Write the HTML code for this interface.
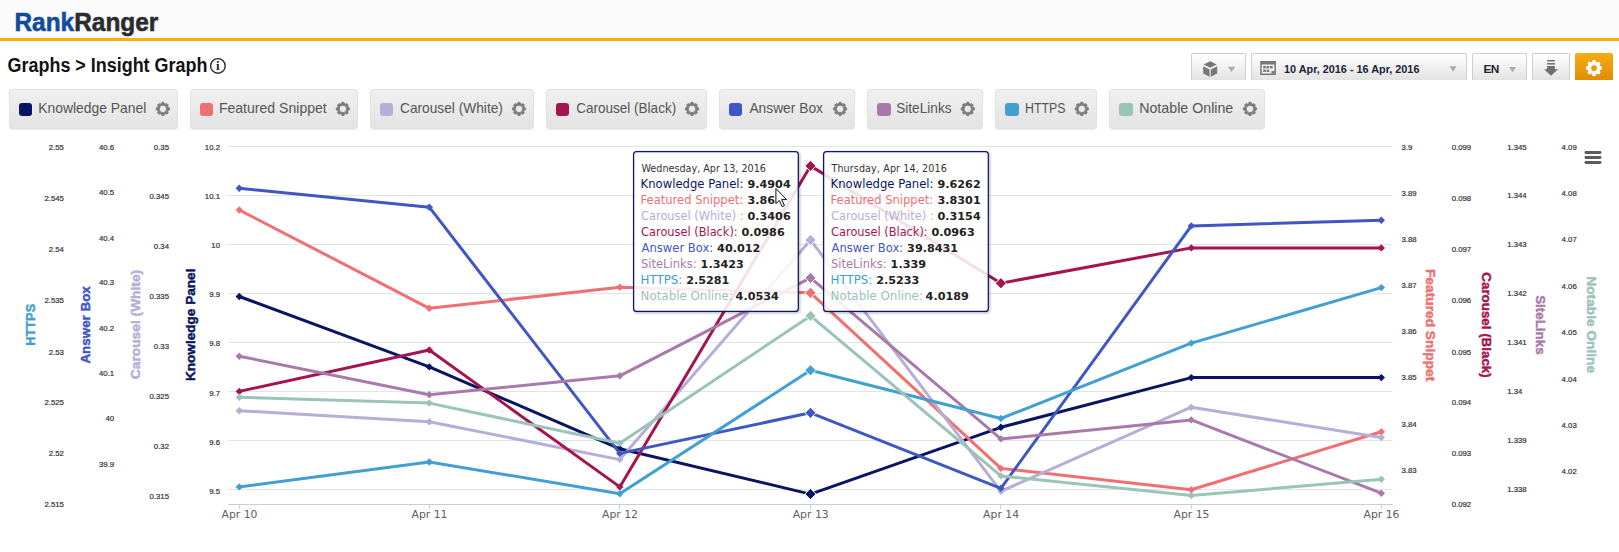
<!DOCTYPE html>
<html lang="en"><head><meta charset="utf-8"><title>Rank Ranger - Insight Graph</title>
<style>
html,body{margin:0;padding:0;background:#fff;}
body{width:1619px;height:552px;position:relative;overflow:hidden;font-family:"Liberation Sans",sans-serif;}
.abs{position:absolute;}
#hdr{left:0;top:0;width:1619px;height:38px;background:#fbfbfb;}
#hline{left:0;top:38px;width:1619px;height:3px;background:#fbae0d;}
.lg{top:89px;height:39.5px;border:1px solid #e2e2e2;border-radius:3px;background:linear-gradient(#f0f0f0,#e3e3e3);box-sizing:border-box;box-shadow:0 1px 1px rgba(0,0,0,.08);}
.lg .sw{position:absolute;left:8.8px;top:12.9px;width:13.6px;height:13px;border-radius:3px;}
.tb{top:53px;height:27px;border:1px solid #cfcfcf;border-bottom:none;border-radius:2px 2px 0 0;background:linear-gradient(#ffffff,#e3e3e3);box-sizing:border-box;}
.tbt{font-weight:700;color:#20223a;white-space:nowrap;}
svg text{font-family:"Liberation Sans",sans-serif;}
.tt text{font-family:"DejaVu Sans","Liberation Sans",sans-serif;}
</style></head><body>
<div id="hdr" class="abs"></div><div id="hline" class="abs"></div>
<div class="abs lg" style="left:9.0px;width:168.7px"><span class="sw" style="background:#091463"></span></div>
<div class="abs lg" style="left:190.1px;width:167.6px"><span class="sw" style="background:#f07072"></span></div>
<div class="abs lg" style="left:370.1px;width:163.7px"><span class="sw" style="background:#b6aed6"></span></div>
<div class="abs lg" style="left:546.0px;width:160.8px"><span class="sw" style="background:#a5144f"></span></div>
<div class="abs lg" style="left:719.1px;width:135.8px"><span class="sw" style="background:#4057c3"></span></div>
<div class="abs lg" style="left:867.2px;width:115.4px"><span class="sw" style="background:#a97aa9"></span></div>
<div class="abs lg" style="left:995.3px;width:101.3px"><span class="sw" style="background:#41a0d1"></span></div>
<div class="abs lg" style="left:1109.3px;width:155.5px"><span class="sw" style="background:#9ac3b9"></span></div>
<div class="abs tb" style="left:1191px;width:55px"></div>
<div class="abs tb" style="left:1251px;width:216px"><span class="abs tbt" style="left:32px;top:1px;line-height:28px;font-size:10.85px">10 Apr, 2016 - 16 Apr, 2016</span></div>
<div class="abs tb" style="left:1472px;width:55px"><span class="abs tbt" style="left:10.5px;top:1px;line-height:28px;font-size:11.8px;letter-spacing:-0.5px">EN</span></div>
<div class="abs tb" style="left:1532px;width:38px"></div>
<div class="abs" style="left:1575px;top:53px;width:38px;height:27px;border-radius:2px 2px 0 0;background:linear-gradient(#f5ad13,#df8c07)"></div>
<svg class="abs" style="left:0;top:0" width="1619" height="552" viewBox="0 0 1619 552">
<text transform="translate(14.4 30.8) scale(1 1.16)" font-size="22.6" font-weight="700" textLength="144" lengthAdjust="spacingAndGlyphs" stroke-width="0.5" stroke-linejoin="round"><tspan fill="#0f4c9c" stroke="#0f4c9c">Rank</tspan><tspan fill="#2c2c2e" stroke="#2c2c2e">Ranger</tspan></text>
<text transform="translate(7.6 72) scale(1 1.075)" font-size="19.1" font-weight="700" textLength="199.8" lengthAdjust="spacingAndGlyphs" fill="#121212">Graphs &gt; Insight Graph</text>
<circle cx="217.9" cy="65.95" r="7.3" fill="none" stroke="#2a2a2a" stroke-width="1.4"/><text x="217.9" y="69.9" font-size="13" font-weight="700" text-anchor="middle" fill="#222" style="font-family:'Liberation Serif',serif">i</text>
<text x="38.3" y="113" font-size="13.75" fill="#555" textLength="108.0" lengthAdjust="spacingAndGlyphs">Knowledge Panel</text>
<text x="218.9" y="113" font-size="13.75" fill="#555" textLength="107.9" lengthAdjust="spacingAndGlyphs">Featured Snippet</text>
<text x="400.0" y="113" font-size="13.75" fill="#555" textLength="102.9" lengthAdjust="spacingAndGlyphs">Carousel (White)</text>
<text x="576.2" y="113" font-size="13.75" fill="#555" textLength="100.0" lengthAdjust="spacingAndGlyphs">Carousel (Black)</text>
<text x="749.4" y="113" font-size="13.75" fill="#555" textLength="73.6" lengthAdjust="spacingAndGlyphs">Answer Box</text>
<text x="896.2" y="113" font-size="13.75" fill="#555" textLength="55.4" lengthAdjust="spacingAndGlyphs">SiteLinks</text>
<text x="1025.0" y="113" font-size="13.75" fill="#555" textLength="40.5" lengthAdjust="spacingAndGlyphs">HTTPS</text>
<text x="1139.2" y="113" font-size="13.75" fill="#555" textLength="94.1" lengthAdjust="spacingAndGlyphs">Notable Online</text>
<path d="M161.61 103.54 L161.86 102.33 L163.94 102.33 L164.19 103.54 L165.78 104.20 L166.81 103.52 L168.28 104.99 L167.60 106.02 L168.26 107.61 L169.47 107.86 L169.47 109.94 L168.26 110.19 L167.60 111.78 L168.28 112.81 L166.81 114.28 L165.78 113.60 L164.19 114.26 L163.94 115.47 L161.86 115.47 L161.61 114.26 L160.02 113.60 L158.99 114.28 L157.52 112.81 L158.20 111.78 L157.54 110.19 L156.33 109.94 L156.33 107.86 L157.54 107.61 L158.20 106.02 L157.52 104.99 L158.99 103.52 L160.02 104.20Z M159.15 108.90 a3.75 3.75 0 1 0 7.50 0 a3.75 3.75 0 1 0 -7.50 0Z" fill="#7b7b7b" fill-rule="evenodd" stroke="#7b7b7b" stroke-width="0.9" stroke-linejoin="round"/>
<path d="M341.61 103.54 L341.86 102.33 L343.94 102.33 L344.19 103.54 L345.78 104.20 L346.81 103.52 L348.28 104.99 L347.60 106.02 L348.26 107.61 L349.47 107.86 L349.47 109.94 L348.26 110.19 L347.60 111.78 L348.28 112.81 L346.81 114.28 L345.78 113.60 L344.19 114.26 L343.94 115.47 L341.86 115.47 L341.61 114.26 L340.02 113.60 L338.99 114.28 L337.52 112.81 L338.20 111.78 L337.54 110.19 L336.33 109.94 L336.33 107.86 L337.54 107.61 L338.20 106.02 L337.52 104.99 L338.99 103.52 L340.02 104.20Z M339.15 108.90 a3.75 3.75 0 1 0 7.50 0 a3.75 3.75 0 1 0 -7.50 0Z" fill="#7b7b7b" fill-rule="evenodd" stroke="#7b7b7b" stroke-width="0.9" stroke-linejoin="round"/>
<path d="M517.71 103.54 L517.96 102.33 L520.04 102.33 L520.29 103.54 L521.88 104.20 L522.91 103.52 L524.38 104.99 L523.70 106.02 L524.36 107.61 L525.57 107.86 L525.57 109.94 L524.36 110.19 L523.70 111.78 L524.38 112.81 L522.91 114.28 L521.88 113.60 L520.29 114.26 L520.04 115.47 L517.96 115.47 L517.71 114.26 L516.12 113.60 L515.09 114.28 L513.62 112.81 L514.30 111.78 L513.64 110.19 L512.43 109.94 L512.43 107.86 L513.64 107.61 L514.30 106.02 L513.62 104.99 L515.09 103.52 L516.12 104.20Z M515.25 108.90 a3.75 3.75 0 1 0 7.50 0 a3.75 3.75 0 1 0 -7.50 0Z" fill="#7b7b7b" fill-rule="evenodd" stroke="#7b7b7b" stroke-width="0.9" stroke-linejoin="round"/>
<path d="M690.71 103.54 L690.96 102.33 L693.04 102.33 L693.29 103.54 L694.88 104.20 L695.91 103.52 L697.38 104.99 L696.70 106.02 L697.36 107.61 L698.57 107.86 L698.57 109.94 L697.36 110.19 L696.70 111.78 L697.38 112.81 L695.91 114.28 L694.88 113.60 L693.29 114.26 L693.04 115.47 L690.96 115.47 L690.71 114.26 L689.12 113.60 L688.09 114.28 L686.62 112.81 L687.30 111.78 L686.64 110.19 L685.43 109.94 L685.43 107.86 L686.64 107.61 L687.30 106.02 L686.62 104.99 L688.09 103.52 L689.12 104.20Z M688.25 108.90 a3.75 3.75 0 1 0 7.50 0 a3.75 3.75 0 1 0 -7.50 0Z" fill="#7b7b7b" fill-rule="evenodd" stroke="#7b7b7b" stroke-width="0.9" stroke-linejoin="round"/>
<path d="M838.81 103.54 L839.06 102.33 L841.14 102.33 L841.39 103.54 L842.98 104.20 L844.01 103.52 L845.48 104.99 L844.80 106.02 L845.46 107.61 L846.67 107.86 L846.67 109.94 L845.46 110.19 L844.80 111.78 L845.48 112.81 L844.01 114.28 L842.98 113.60 L841.39 114.26 L841.14 115.47 L839.06 115.47 L838.81 114.26 L837.22 113.60 L836.19 114.28 L834.72 112.81 L835.40 111.78 L834.74 110.19 L833.53 109.94 L833.53 107.86 L834.74 107.61 L835.40 106.02 L834.72 104.99 L836.19 103.52 L837.22 104.20Z M836.35 108.90 a3.75 3.75 0 1 0 7.50 0 a3.75 3.75 0 1 0 -7.50 0Z" fill="#7b7b7b" fill-rule="evenodd" stroke="#7b7b7b" stroke-width="0.9" stroke-linejoin="round"/>
<path d="M966.51 103.54 L966.76 102.33 L968.84 102.33 L969.09 103.54 L970.68 104.20 L971.71 103.52 L973.18 104.99 L972.50 106.02 L973.16 107.61 L974.37 107.86 L974.37 109.94 L973.16 110.19 L972.50 111.78 L973.18 112.81 L971.71 114.28 L970.68 113.60 L969.09 114.26 L968.84 115.47 L966.76 115.47 L966.51 114.26 L964.92 113.60 L963.89 114.28 L962.42 112.81 L963.10 111.78 L962.44 110.19 L961.23 109.94 L961.23 107.86 L962.44 107.61 L963.10 106.02 L962.42 104.99 L963.89 103.52 L964.92 104.20Z M964.05 108.90 a3.75 3.75 0 1 0 7.50 0 a3.75 3.75 0 1 0 -7.50 0Z" fill="#7b7b7b" fill-rule="evenodd" stroke="#7b7b7b" stroke-width="0.9" stroke-linejoin="round"/>
<path d="M1080.51 103.54 L1080.76 102.33 L1082.84 102.33 L1083.09 103.54 L1084.68 104.20 L1085.71 103.52 L1087.18 104.99 L1086.50 106.02 L1087.16 107.61 L1088.37 107.86 L1088.37 109.94 L1087.16 110.19 L1086.50 111.78 L1087.18 112.81 L1085.71 114.28 L1084.68 113.60 L1083.09 114.26 L1082.84 115.47 L1080.76 115.47 L1080.51 114.26 L1078.92 113.60 L1077.89 114.28 L1076.42 112.81 L1077.10 111.78 L1076.44 110.19 L1075.23 109.94 L1075.23 107.86 L1076.44 107.61 L1077.10 106.02 L1076.42 104.99 L1077.89 103.52 L1078.92 104.20Z M1078.05 108.90 a3.75 3.75 0 1 0 7.50 0 a3.75 3.75 0 1 0 -7.50 0Z" fill="#7b7b7b" fill-rule="evenodd" stroke="#7b7b7b" stroke-width="0.9" stroke-linejoin="round"/>
<path d="M1248.71 103.54 L1248.96 102.33 L1251.04 102.33 L1251.29 103.54 L1252.88 104.20 L1253.91 103.52 L1255.38 104.99 L1254.70 106.02 L1255.36 107.61 L1256.57 107.86 L1256.57 109.94 L1255.36 110.19 L1254.70 111.78 L1255.38 112.81 L1253.91 114.28 L1252.88 113.60 L1251.29 114.26 L1251.04 115.47 L1248.96 115.47 L1248.71 114.26 L1247.12 113.60 L1246.09 114.28 L1244.62 112.81 L1245.30 111.78 L1244.64 110.19 L1243.43 109.94 L1243.43 107.86 L1244.64 107.61 L1245.30 106.02 L1244.62 104.99 L1246.09 103.52 L1247.12 104.20Z M1246.25 108.90 a3.75 3.75 0 1 0 7.50 0 a3.75 3.75 0 1 0 -7.50 0Z" fill="#7b7b7b" fill-rule="evenodd" stroke="#7b7b7b" stroke-width="0.9" stroke-linejoin="round"/>
<g fill="#777"><path d="M1210.2 61.2l6.6 3.3-6.6 3.3-6.6-3.3z"/><path d="M1203.2 66.2l6.4 3.2v7.4l-6.4-3.4z"/><path d="M1217.2 66.2l-6.4 3.2v7.4l6.4-3.4z"/></g>
<path d="M1228.1 66.8h7.0l-3.5 5.5z" fill="#aaa"/><path d="M1449.5 66.2h7.0l-3.5 5.5z" fill="#aaa"/><path d="M1509.0 67.0h7.0l-3.5 5.5z" fill="#aaa"/>
<g><rect x="1260.2" y="61" width="15.7" height="14" fill="#777"/><rect x="1261.7" y="64.5" width="12.7" height="9" fill="#f1f1f1"/><g fill="#777"><rect x="1263.2" y="66" width="2.6" height="2.4"/><rect x="1266.6" y="66" width="2.6" height="2.4"/><rect x="1270" y="66" width="2.6" height="2.4"/><rect x="1263.2" y="69.6" width="2.6" height="2.4"/><rect x="1266.6" y="69.6" width="2.6" height="2.4"/><rect x="1271.5" y="71" width="3" height="2.6"/></g></g>
<g fill="#6f6f6f"><rect x="1547.1" y="60" width="7.8" height="1.5"/><rect x="1547.1" y="63" width="7.8" height="1.6"/><path d="M1547.1 66.1h7.8v3.1h3.1l-7 6.6-7-6.6h3.1z"/></g>
<path d="M1592.55 62.25 L1592.74 60.55 L1595.26 60.55 L1595.45 62.25 L1597.11 62.93 L1598.45 61.88 L1600.22 63.65 L1599.17 64.99 L1599.85 66.65 L1601.55 66.84 L1601.55 69.36 L1599.85 69.55 L1599.17 71.21 L1600.22 72.55 L1598.45 74.32 L1597.11 73.27 L1595.45 73.95 L1595.26 75.65 L1592.74 75.65 L1592.55 73.95 L1590.89 73.27 L1589.55 74.32 L1587.78 72.55 L1588.83 71.21 L1588.15 69.55 L1586.45 69.36 L1586.45 66.84 L1588.15 66.65 L1588.83 64.99 L1587.78 63.65 L1589.55 61.88 L1590.89 62.93Z M1590.55 68.10 a3.45 3.45 0 1 0 6.90 0 a3.45 3.45 0 1 0 -6.90 0Z" fill="#fff" fill-rule="evenodd" stroke="#fff" stroke-width="0.9" stroke-linejoin="round"/>
<path d="M228 146.5H1392.5" stroke="#e4e4e4" stroke-width="1" fill="none"/>
<path d="M228 195.5H1392.5" stroke="#e4e4e4" stroke-width="1" fill="none"/>
<path d="M228 244.5H1392.5" stroke="#e4e4e4" stroke-width="1" fill="none"/>
<path d="M228 293.5H1392.5" stroke="#e4e4e4" stroke-width="1" fill="none"/>
<path d="M228 342.5H1392.5" stroke="#e4e4e4" stroke-width="1" fill="none"/>
<path d="M228 391.5H1392.5" stroke="#e4e4e4" stroke-width="1" fill="none"/>
<path d="M228 440.5H1392.5" stroke="#e4e4e4" stroke-width="1" fill="none"/>
<path d="M228 489.5H1392.5" stroke="#e4e4e4" stroke-width="1" fill="none"/>
<path d="M228 504.5H1392.5" stroke="#c0d0e0" stroke-width="1" fill="none"/>
<path d="M239.5 504.5V509" stroke="#c0d0e0" stroke-width="1" fill="none"/><path d="M429.5 504.5V509" stroke="#c0d0e0" stroke-width="1" fill="none"/><path d="M619.5 504.5V509" stroke="#c0d0e0" stroke-width="1" fill="none"/><path d="M810.5 504.5V509" stroke="#c0d0e0" stroke-width="1" fill="none"/><path d="M1000.5 504.5V509" stroke="#c0d0e0" stroke-width="1" fill="none"/><path d="M1191.5 504.5V509" stroke="#c0d0e0" stroke-width="1" fill="none"/><path d="M1381.5 504.5V509" stroke="#c0d0e0" stroke-width="1" fill="none"/>
<text x="239.5" y="517.8" font-size="10.85" text-anchor="middle" fill="#606060" style="font-family:'DejaVu Sans',sans-serif">Apr 10</text><text x="429.5" y="517.8" font-size="10.85" text-anchor="middle" fill="#606060" style="font-family:'DejaVu Sans',sans-serif">Apr 11</text><text x="620.0" y="517.8" font-size="10.85" text-anchor="middle" fill="#606060" style="font-family:'DejaVu Sans',sans-serif">Apr 12</text><text x="810.7" y="517.8" font-size="10.85" text-anchor="middle" fill="#606060" style="font-family:'DejaVu Sans',sans-serif">Apr 13</text><text x="1001.1" y="517.8" font-size="10.85" text-anchor="middle" fill="#606060" style="font-family:'DejaVu Sans',sans-serif">Apr 14</text><text x="1191.5" y="517.8" font-size="10.85" text-anchor="middle" fill="#606060" style="font-family:'DejaVu Sans',sans-serif">Apr 15</text><text x="1381.5" y="517.8" font-size="10.85" text-anchor="middle" fill="#606060" style="font-family:'DejaVu Sans',sans-serif">Apr 16</text>
<text x="63.9" y="150.3" font-size="7.8" text-anchor="end" fill="#333" stroke="#333" stroke-width="0.2">2.55</text><text x="63.9" y="201.3" font-size="7.8" text-anchor="end" fill="#333" stroke="#333" stroke-width="0.2">2.545</text><text x="63.9" y="252.3" font-size="7.8" text-anchor="end" fill="#333" stroke="#333" stroke-width="0.2">2.54</text><text x="63.9" y="303.3" font-size="7.8" text-anchor="end" fill="#333" stroke="#333" stroke-width="0.2">2.535</text><text x="63.9" y="354.5" font-size="7.8" text-anchor="end" fill="#333" stroke="#333" stroke-width="0.2">2.53</text><text x="63.9" y="405.1" font-size="7.8" text-anchor="end" fill="#333" stroke="#333" stroke-width="0.2">2.525</text><text x="63.9" y="456.1" font-size="7.8" text-anchor="end" fill="#333" stroke="#333" stroke-width="0.2">2.52</text><text x="63.9" y="507.1" font-size="7.8" text-anchor="end" fill="#333" stroke="#333" stroke-width="0.2">2.515</text>
<text x="114.2" y="150.3" font-size="7.8" text-anchor="end" fill="#333" stroke="#333" stroke-width="0.2">40.6</text><text x="114.2" y="194.8" font-size="7.8" text-anchor="end" fill="#333" stroke="#333" stroke-width="0.2">40.5</text><text x="114.2" y="240.5" font-size="7.8" text-anchor="end" fill="#333" stroke="#333" stroke-width="0.2">40.4</text><text x="114.2" y="285.0" font-size="7.8" text-anchor="end" fill="#333" stroke="#333" stroke-width="0.2">40.3</text><text x="114.2" y="331.1" font-size="7.8" text-anchor="end" fill="#333" stroke="#333" stroke-width="0.2">40.2</text><text x="114.2" y="376.2" font-size="7.8" text-anchor="end" fill="#333" stroke="#333" stroke-width="0.2">40.1</text><text x="114.2" y="421.1" font-size="7.8" text-anchor="end" fill="#333" stroke="#333" stroke-width="0.2">40</text><text x="114.2" y="467.1" font-size="7.8" text-anchor="end" fill="#333" stroke="#333" stroke-width="0.2">39.9</text>
<text x="169.0" y="150.3" font-size="7.8" text-anchor="end" fill="#333" stroke="#333" stroke-width="0.2">0.35</text><text x="169.0" y="199.0" font-size="7.8" text-anchor="end" fill="#333" stroke="#333" stroke-width="0.2">0.345</text><text x="169.0" y="248.9" font-size="7.8" text-anchor="end" fill="#333" stroke="#333" stroke-width="0.2">0.34</text><text x="169.0" y="299.1" font-size="7.8" text-anchor="end" fill="#333" stroke="#333" stroke-width="0.2">0.335</text><text x="169.0" y="349.2" font-size="7.8" text-anchor="end" fill="#333" stroke="#333" stroke-width="0.2">0.33</text><text x="169.0" y="399.0" font-size="7.8" text-anchor="end" fill="#333" stroke="#333" stroke-width="0.2">0.325</text><text x="169.0" y="448.9" font-size="7.8" text-anchor="end" fill="#333" stroke="#333" stroke-width="0.2">0.32</text><text x="169.0" y="499.1" font-size="7.8" text-anchor="end" fill="#333" stroke="#333" stroke-width="0.2">0.315</text>
<text x="220.0" y="150.3" font-size="7.8" text-anchor="end" fill="#333" stroke="#333" stroke-width="0.2">10.2</text><text x="220.0" y="199.0" font-size="7.8" text-anchor="end" fill="#333" stroke="#333" stroke-width="0.2">10.1</text><text x="220.0" y="247.8" font-size="7.8" text-anchor="end" fill="#333" stroke="#333" stroke-width="0.2">10</text><text x="220.0" y="297.2" font-size="7.8" text-anchor="end" fill="#333" stroke="#333" stroke-width="0.2">9.9</text><text x="220.0" y="346.4" font-size="7.8" text-anchor="end" fill="#333" stroke="#333" stroke-width="0.2">9.8</text><text x="220.0" y="395.6" font-size="7.8" text-anchor="end" fill="#333" stroke="#333" stroke-width="0.2">9.7</text><text x="220.0" y="444.8" font-size="7.8" text-anchor="end" fill="#333" stroke="#333" stroke-width="0.2">9.6</text><text x="220.0" y="494.0" font-size="7.8" text-anchor="end" fill="#333" stroke="#333" stroke-width="0.2">9.5</text>
<text x="1401.5" y="150.3" font-size="7.8" text-anchor="start" fill="#333" stroke="#333" stroke-width="0.2">3.9</text><text x="1401.5" y="196.3" font-size="7.8" text-anchor="start" fill="#333" stroke="#333" stroke-width="0.2">3.89</text><text x="1401.5" y="242.3" font-size="7.8" text-anchor="start" fill="#333" stroke="#333" stroke-width="0.2">3.88</text><text x="1401.5" y="288.3" font-size="7.8" text-anchor="start" fill="#333" stroke="#333" stroke-width="0.2">3.87</text><text x="1401.5" y="334.3" font-size="7.8" text-anchor="start" fill="#333" stroke="#333" stroke-width="0.2">3.86</text><text x="1401.5" y="380.3" font-size="7.8" text-anchor="start" fill="#333" stroke="#333" stroke-width="0.2">3.85</text><text x="1401.5" y="426.7" font-size="7.8" text-anchor="start" fill="#333" stroke="#333" stroke-width="0.2">3.84</text><text x="1401.5" y="473.1" font-size="7.8" text-anchor="start" fill="#333" stroke="#333" stroke-width="0.2">3.83</text>
<text x="1451.7" y="150.3" font-size="7.8" text-anchor="start" fill="#333" stroke="#333" stroke-width="0.2">0.099</text><text x="1451.7" y="201.2" font-size="7.8" text-anchor="start" fill="#333" stroke="#333" stroke-width="0.2">0.098</text><text x="1451.7" y="252.2" font-size="7.8" text-anchor="start" fill="#333" stroke="#333" stroke-width="0.2">0.097</text><text x="1451.7" y="303.1" font-size="7.8" text-anchor="start" fill="#333" stroke="#333" stroke-width="0.2">0.096</text><text x="1451.7" y="354.5" font-size="7.8" text-anchor="start" fill="#333" stroke="#333" stroke-width="0.2">0.095</text><text x="1451.7" y="405.0" font-size="7.8" text-anchor="start" fill="#333" stroke="#333" stroke-width="0.2">0.094</text><text x="1451.7" y="456.4" font-size="7.8" text-anchor="start" fill="#333" stroke="#333" stroke-width="0.2">0.093</text><text x="1451.7" y="506.9" font-size="7.8" text-anchor="start" fill="#333" stroke="#333" stroke-width="0.2">0.092</text>
<text x="1507.2" y="150.3" font-size="7.8" text-anchor="start" fill="#333" stroke="#333" stroke-width="0.2">1.345</text><text x="1507.2" y="198.2" font-size="7.8" text-anchor="start" fill="#333" stroke="#333" stroke-width="0.2">1.344</text><text x="1507.2" y="246.9" font-size="7.8" text-anchor="start" fill="#333" stroke="#333" stroke-width="0.2">1.343</text><text x="1507.2" y="295.9" font-size="7.8" text-anchor="start" fill="#333" stroke="#333" stroke-width="0.2">1.342</text><text x="1507.2" y="345.0" font-size="7.8" text-anchor="start" fill="#333" stroke="#333" stroke-width="0.2">1.341</text><text x="1507.2" y="394.0" font-size="7.8" text-anchor="start" fill="#333" stroke="#333" stroke-width="0.2">1.34</text><text x="1507.2" y="443.1" font-size="7.8" text-anchor="start" fill="#333" stroke="#333" stroke-width="0.2">1.339</text><text x="1507.2" y="492.1" font-size="7.8" text-anchor="start" fill="#333" stroke="#333" stroke-width="0.2">1.338</text>
<text x="1561.6" y="150.3" font-size="7.8" text-anchor="start" fill="#333" stroke="#333" stroke-width="0.2">4.09</text><text x="1561.6" y="196.3" font-size="7.8" text-anchor="start" fill="#333" stroke="#333" stroke-width="0.2">4.08</text><text x="1561.6" y="242.3" font-size="7.8" text-anchor="start" fill="#333" stroke="#333" stroke-width="0.2">4.07</text><text x="1561.6" y="289.1" font-size="7.8" text-anchor="start" fill="#333" stroke="#333" stroke-width="0.2">4.06</text><text x="1561.6" y="335.1" font-size="7.8" text-anchor="start" fill="#333" stroke="#333" stroke-width="0.2">4.05</text><text x="1561.6" y="381.5" font-size="7.8" text-anchor="start" fill="#333" stroke="#333" stroke-width="0.2">4.04</text><text x="1561.6" y="428.2" font-size="7.8" text-anchor="start" fill="#333" stroke="#333" stroke-width="0.2">4.03</text><text x="1561.6" y="474.2" font-size="7.8" text-anchor="start" fill="#333" stroke="#333" stroke-width="0.2">4.02</text>
<text transform="translate(34.8 324.8) rotate(-90)" font-size="13.7" font-weight="700" text-anchor="middle" textLength="41.9" lengthAdjust="spacingAndGlyphs" fill="#41a0d1" stroke="#41a0d1" stroke-width="0.45">HTTPS</text>
<text transform="translate(89.7 324.9) rotate(-90)" font-size="13.7" font-weight="700" text-anchor="middle" textLength="77.4" lengthAdjust="spacingAndGlyphs" fill="#4057c3" stroke="#4057c3" stroke-width="0.45">Answer Box</text>
<text transform="translate(139.8 324.5) rotate(-90)" font-size="13.7" font-weight="700" text-anchor="middle" textLength="109.3" lengthAdjust="spacingAndGlyphs" fill="#b6aed6" stroke="#b6aed6" stroke-width="0.45">Carousel (White)</text>
<text transform="translate(194.7 324.8) rotate(-90)" font-size="13.7" font-weight="700" text-anchor="middle" textLength="112.5" lengthAdjust="spacingAndGlyphs" fill="#091463" stroke="#091463" stroke-width="0.45">Knowledge Panel</text>
<text transform="translate(1426.0 325.1) rotate(90)" font-size="13.7" font-weight="700" text-anchor="middle" textLength="112.3" lengthAdjust="spacingAndGlyphs" fill="#f07072" stroke="#f07072" stroke-width="0.45">Featured Snippet</text>
<text transform="translate(1481.5 325.0) rotate(90)" font-size="13.7" font-weight="700" text-anchor="middle" textLength="105.4" lengthAdjust="spacingAndGlyphs" fill="#a5144f" stroke="#a5144f" stroke-width="0.45">Carousel (Black)</text>
<text transform="translate(1536.0 324.9) rotate(90)" font-size="13.7" font-weight="700" text-anchor="middle" textLength="59.5" lengthAdjust="spacingAndGlyphs" fill="#a97aa9" stroke="#a97aa9" stroke-width="0.45">SiteLinks</text>
<text transform="translate(1587.0 324.7) rotate(90)" font-size="13.7" font-weight="700" text-anchor="middle" textLength="96.7" lengthAdjust="spacingAndGlyphs" fill="#9ac3b9" stroke="#9ac3b9" stroke-width="0.45">Notable Online</text>
<g fill="#5c5c5c"><rect x="1584.5" y="151.1" width="17" height="2.9" rx="1.4"/><rect x="1584.5" y="156" width="17" height="2.9" rx="1.4"/><rect x="1584.5" y="161.1" width="17" height="2.9" rx="1.4"/></g>
<path d="M239.3 296.5 L429.3 366.9 L619.8 448.8 L810.5 494.1 L1000.9 427.3 L1191.3 377.6 L1381.3 377.6" fill="none" stroke="#091463" stroke-width="3" stroke-linejoin="round" stroke-linecap="round"/>
<path d="M239.3 292.8L243.0 296.5L239.3 300.2L235.6 296.5Z" fill="#091463"/><path d="M429.3 363.2L433.0 366.9L429.3 370.6L425.6 366.9Z" fill="#091463"/><path d="M619.8 445.1L623.5 448.8L619.8 452.5L616.1 448.8Z" fill="#091463"/><path d="M810.5 488.5L816.1 494.1L810.5 499.7L804.9 494.1Z" fill="#091463" stroke="#fff" stroke-width="1"/><path d="M1000.9 423.6L1004.6 427.3L1000.9 431.0L997.2 427.3Z" fill="#091463"/><path d="M1191.3 373.9L1195.0 377.6L1191.3 381.3L1187.6 377.6Z" fill="#091463"/><path d="M1381.3 373.9L1385.0 377.6L1381.3 381.3L1377.6 377.6Z" fill="#091463"/>
<path d="M239.3 210.0 L429.3 308.3 L619.8 287.3 L810.5 292.8 L1000.9 468.4 L1191.3 489.7 L1381.3 431.8" fill="none" stroke="#f07072" stroke-width="3" stroke-linejoin="round" stroke-linecap="round"/>
<path d="M239.3 206.3L243.0 210.0L239.3 213.7L235.6 210.0Z" fill="#f07072"/><path d="M429.3 304.6L433.0 308.3L429.3 312.0L425.6 308.3Z" fill="#f07072"/><path d="M619.8 283.6L623.5 287.3L619.8 291.0L616.1 287.3Z" fill="#f07072"/><path d="M810.5 287.2L816.1 292.8L810.5 298.4L804.9 292.8Z" fill="#f07072" stroke="#fff" stroke-width="1"/><path d="M1000.9 464.7L1004.6 468.4L1000.9 472.1L997.2 468.4Z" fill="#f07072"/><path d="M1191.3 486.0L1195.0 489.7L1191.3 493.4L1187.6 489.7Z" fill="#f07072"/><path d="M1381.3 428.1L1385.0 431.8L1381.3 435.5L1377.6 431.8Z" fill="#f07072"/>
<path d="M239.3 410.7 L429.3 421.7 L619.8 459.6 L810.5 240.0 L1000.9 491.3 L1191.3 407.2 L1381.3 437.6" fill="none" stroke="#b6aed6" stroke-width="3" stroke-linejoin="round" stroke-linecap="round"/>
<path d="M239.3 407.0L243.0 410.7L239.3 414.4L235.6 410.7Z" fill="#b6aed6"/><path d="M429.3 418.0L433.0 421.7L429.3 425.4L425.6 421.7Z" fill="#b6aed6"/><path d="M619.8 455.9L623.5 459.6L619.8 463.3L616.1 459.6Z" fill="#b6aed6"/><path d="M810.5 234.4L816.1 240.0L810.5 245.6L804.9 240.0Z" fill="#b6aed6" stroke="#fff" stroke-width="1"/><path d="M1000.9 487.6L1004.6 491.3L1000.9 495.0L997.2 491.3Z" fill="#b6aed6"/><path d="M1191.3 403.5L1195.0 407.2L1191.3 410.9L1187.6 407.2Z" fill="#b6aed6"/><path d="M1381.3 433.9L1385.0 437.6L1381.3 441.3L1377.6 437.6Z" fill="#b6aed6"/>
<path d="M239.3 391.4 L429.3 350.0 L619.8 486.9 L810.5 165.9 L1000.9 283.2 L1191.3 247.9 L1381.3 247.9" fill="none" stroke="#a5144f" stroke-width="3" stroke-linejoin="round" stroke-linecap="round"/>
<path d="M239.3 387.7L243.0 391.4L239.3 395.1L235.6 391.4Z" fill="#a5144f"/><path d="M429.3 346.3L433.0 350.0L429.3 353.7L425.6 350.0Z" fill="#a5144f"/><path d="M619.8 483.2L623.5 486.9L619.8 490.6L616.1 486.9Z" fill="#a5144f"/><path d="M810.5 160.3L816.1 165.9L810.5 171.5L804.9 165.9Z" fill="#a5144f" stroke="#fff" stroke-width="1"/><path d="M1000.9 277.6L1006.5 283.2L1000.9 288.8L995.3 283.2Z" fill="#a5144f" stroke="#fff" stroke-width="1"/><path d="M1191.3 244.2L1195.0 247.9L1191.3 251.6L1187.6 247.9Z" fill="#a5144f"/><path d="M1381.3 244.2L1385.0 247.9L1381.3 251.6L1377.6 247.9Z" fill="#a5144f"/>
<path d="M239.3 188.3 L429.3 207.2 L619.8 453.4 L810.5 412.8 L1000.9 488.3 L1191.3 225.9 L1381.3 220.3" fill="none" stroke="#4057c3" stroke-width="3" stroke-linejoin="round" stroke-linecap="round"/>
<path d="M239.3 184.6L243.0 188.3L239.3 192.0L235.6 188.3Z" fill="#4057c3"/><path d="M429.3 203.5L433.0 207.2L429.3 210.9L425.6 207.2Z" fill="#4057c3"/><path d="M619.8 449.7L623.5 453.4L619.8 457.1L616.1 453.4Z" fill="#4057c3"/><path d="M810.5 407.2L816.1 412.8L810.5 418.4L804.9 412.8Z" fill="#4057c3" stroke="#fff" stroke-width="1"/><path d="M1000.9 484.6L1004.6 488.3L1000.9 492.0L997.2 488.3Z" fill="#4057c3"/><path d="M1191.3 222.2L1195.0 225.9L1191.3 229.6L1187.6 225.9Z" fill="#4057c3"/><path d="M1381.3 216.6L1385.0 220.3L1381.3 224.0L1377.6 220.3Z" fill="#4057c3"/>
<path d="M239.3 356.2 L429.3 394.8 L619.8 375.8 L810.5 277.9 L1000.9 438.9 L1191.3 419.9 L1381.3 493.2" fill="none" stroke="#a97aa9" stroke-width="3" stroke-linejoin="round" stroke-linecap="round"/>
<path d="M239.3 352.5L243.0 356.2L239.3 359.9L235.6 356.2Z" fill="#a97aa9"/><path d="M429.3 391.1L433.0 394.8L429.3 398.5L425.6 394.8Z" fill="#a97aa9"/><path d="M619.8 372.1L623.5 375.8L619.8 379.5L616.1 375.8Z" fill="#a97aa9"/><path d="M810.5 272.3L816.1 277.9L810.5 283.5L804.9 277.9Z" fill="#a97aa9" stroke="#fff" stroke-width="1"/><path d="M1000.9 435.2L1004.6 438.9L1000.9 442.6L997.2 438.9Z" fill="#a97aa9"/><path d="M1191.3 416.2L1195.0 419.9L1191.3 423.6L1187.6 419.9Z" fill="#a97aa9"/><path d="M1381.3 489.5L1385.0 493.2L1381.3 496.9L1377.6 493.2Z" fill="#a97aa9"/>
<path d="M239.3 486.9 L429.3 462.0 L619.8 493.7 L810.5 370.3 L1000.9 418.5 L1191.3 343.1 L1381.3 287.6" fill="none" stroke="#41a0d1" stroke-width="3" stroke-linejoin="round" stroke-linecap="round"/>
<path d="M239.3 483.2L243.0 486.9L239.3 490.6L235.6 486.9Z" fill="#41a0d1"/><path d="M429.3 458.3L433.0 462.0L429.3 465.7L425.6 462.0Z" fill="#41a0d1"/><path d="M619.8 490.0L623.5 493.7L619.8 497.4L616.1 493.7Z" fill="#41a0d1"/><path d="M810.5 364.7L816.1 370.3L810.5 375.9L804.9 370.3Z" fill="#41a0d1" stroke="#fff" stroke-width="1"/><path d="M1000.9 414.8L1004.6 418.5L1000.9 422.2L997.2 418.5Z" fill="#41a0d1"/><path d="M1191.3 339.4L1195.0 343.1L1191.3 346.8L1187.6 343.1Z" fill="#41a0d1"/><path d="M1381.3 283.9L1385.0 287.6L1381.3 291.3L1377.6 287.6Z" fill="#41a0d1"/>
<path d="M239.3 397.2 L429.3 403.1 L619.8 443.3 L810.5 315.9 L1000.9 475.9 L1191.3 495.6 L1381.3 479.3" fill="none" stroke="#9ac3b9" stroke-width="3" stroke-linejoin="round" stroke-linecap="round"/>
<path d="M239.3 393.5L243.0 397.2L239.3 400.9L235.6 397.2Z" fill="#9ac3b9"/><path d="M429.3 399.4L433.0 403.1L429.3 406.8L425.6 403.1Z" fill="#9ac3b9"/><path d="M619.8 439.6L623.5 443.3L619.8 447.0L616.1 443.3Z" fill="#9ac3b9"/><path d="M810.5 310.3L816.1 315.9L810.5 321.5L804.9 315.9Z" fill="#9ac3b9" stroke="#fff" stroke-width="1"/><path d="M1000.9 472.2L1004.6 475.9L1000.9 479.6L997.2 475.9Z" fill="#9ac3b9"/><path d="M1191.3 491.9L1195.0 495.6L1191.3 499.3L1187.6 495.6Z" fill="#9ac3b9"/><path d="M1381.3 475.6L1385.0 479.3L1381.3 483.0L1377.6 479.3Z" fill="#9ac3b9"/>
<g class="tt"><rect x="634.6" y="152.5" width="164.7" height="159.9" rx="3" fill="none" stroke="#000" stroke-opacity="0.05" stroke-width="5"/><rect x="634.6" y="152.5" width="164.7" height="159.9" rx="3" fill="none" stroke="#000" stroke-opacity="0.07" stroke-width="3"/><rect x="634.6" y="152.5" width="164.7" height="159.9" rx="3" fill="none" stroke="#000" stroke-opacity="0.09" stroke-width="1"/><rect x="633.6" y="151.5" width="164.7" height="159.9" rx="3" fill="#fff" fill-opacity="0.87" stroke="#0e1766" stroke-width="1.25"/>
<text x="641.4" y="171.8" font-size="9.6" fill="#333" textLength="124.5" lengthAdjust="spacing">Wednesday, Apr 13, 2016</text>
<text y="187.6" font-size="11.5" fill="#091463" xml:space="preserve"><tspan x="640.6" textLength="102.9" lengthAdjust="spacingAndGlyphs">Knowledge Panel:</tspan><tspan x="747.5" font-weight="700" font-size="11.25" fill="#222" textLength="43.2" lengthAdjust="spacingAndGlyphs">9.4904</tspan></text>
<text y="203.6" font-size="11.5" fill="#f07072" xml:space="preserve"><tspan x="640.6" textLength="102.6" lengthAdjust="spacingAndGlyphs">Featured Snippet:</tspan><tspan x="747.5" font-weight="700" font-size="11.25" fill="#222" textLength="27.6" lengthAdjust="spacingAndGlyphs">3.86</tspan></text>
<text y="219.6" font-size="11.5" fill="#b6aed6" xml:space="preserve"><tspan x="641.1" textLength="102.5" lengthAdjust="spacingAndGlyphs">Carousel (White) :</tspan><tspan x="747.5" font-weight="700" font-size="11.25" fill="#222" textLength="43.2" lengthAdjust="spacingAndGlyphs">0.3406</tspan></text>
<text y="235.6" font-size="11.5" fill="#a5144f" xml:space="preserve"><tspan x="641.1" textLength="96.6" lengthAdjust="spacingAndGlyphs">Carousel (Black):</tspan><tspan x="741.5" font-weight="700" font-size="11.25" fill="#222" textLength="43.2" lengthAdjust="spacingAndGlyphs">0.0986</tspan></text>
<text y="251.6" font-size="11.5" fill="#4057c3" xml:space="preserve"><tspan x="641.6" textLength="71.6" lengthAdjust="spacingAndGlyphs">Answer Box:</tspan><tspan x="717.1" font-weight="700" font-size="11.25" fill="#222" textLength="43.2" lengthAdjust="spacingAndGlyphs">40.012</tspan></text>
<text y="267.6" font-size="11.5" fill="#a97aa9" xml:space="preserve"><tspan x="641.0" textLength="55.6" lengthAdjust="spacingAndGlyphs">SiteLinks:</tspan><tspan x="700.6" font-weight="700" font-size="11.25" fill="#222" textLength="43.2" lengthAdjust="spacingAndGlyphs">1.3423</tspan></text>
<text y="283.6" font-size="11.5" fill="#41a0d1" xml:space="preserve"><tspan x="640.6" textLength="41.7" lengthAdjust="spacingAndGlyphs">HTTPS:</tspan><tspan x="686.2" font-weight="700" font-size="11.25" fill="#222" textLength="43.2" lengthAdjust="spacingAndGlyphs">2.5281</tspan></text>
<text y="299.6" font-size="11.5" fill="#9ac3b9" xml:space="preserve"><tspan x="640.6" textLength="92.2" lengthAdjust="spacingAndGlyphs">Notable Online:</tspan><tspan x="735.6" font-weight="700" font-size="11.25" fill="#222" textLength="43.2" lengthAdjust="spacingAndGlyphs">4.0534</tspan></text>
</g>
<g class="tt"><rect x="824.6" y="152.5" width="164.7" height="159.9" rx="3" fill="none" stroke="#000" stroke-opacity="0.05" stroke-width="5"/><rect x="824.6" y="152.5" width="164.7" height="159.9" rx="3" fill="none" stroke="#000" stroke-opacity="0.07" stroke-width="3"/><rect x="824.6" y="152.5" width="164.7" height="159.9" rx="3" fill="none" stroke="#000" stroke-opacity="0.09" stroke-width="1"/><rect x="823.6" y="151.5" width="164.7" height="159.9" rx="3" fill="#fff" fill-opacity="0.87" stroke="#0e1766" stroke-width="1.25"/>
<text x="831.4" y="171.8" font-size="9.6" fill="#333" textLength="115.4" lengthAdjust="spacing">Thursday, Apr 14, 2016</text>
<text y="187.6" font-size="11.5" fill="#091463" xml:space="preserve"><tspan x="830.6" textLength="102.9" lengthAdjust="spacingAndGlyphs">Knowledge Panel:</tspan><tspan x="937.5" font-weight="700" font-size="11.25" fill="#222" textLength="43.2" lengthAdjust="spacingAndGlyphs">9.6262</tspan></text>
<text y="203.6" font-size="11.5" fill="#f07072" xml:space="preserve"><tspan x="830.6" textLength="102.6" lengthAdjust="spacingAndGlyphs">Featured Snippet:</tspan><tspan x="937.5" font-weight="700" font-size="11.25" fill="#222" textLength="43.2" lengthAdjust="spacingAndGlyphs">3.8301</tspan></text>
<text y="219.6" font-size="11.5" fill="#b6aed6" xml:space="preserve"><tspan x="831.1" textLength="102.5" lengthAdjust="spacingAndGlyphs">Carousel (White) :</tspan><tspan x="937.5" font-weight="700" font-size="11.25" fill="#222" textLength="43.2" lengthAdjust="spacingAndGlyphs">0.3154</tspan></text>
<text y="235.6" font-size="11.5" fill="#a5144f" xml:space="preserve"><tspan x="831.1" textLength="96.6" lengthAdjust="spacingAndGlyphs">Carousel (Black):</tspan><tspan x="931.5" font-weight="700" font-size="11.25" fill="#222" textLength="43.2" lengthAdjust="spacingAndGlyphs">0.0963</tspan></text>
<text y="251.6" font-size="11.5" fill="#4057c3" xml:space="preserve"><tspan x="831.6" textLength="71.6" lengthAdjust="spacingAndGlyphs">Answer Box:</tspan><tspan x="907.1" font-weight="700" font-size="11.25" fill="#222" textLength="51.0" lengthAdjust="spacingAndGlyphs">39.8431</tspan></text>
<text y="267.6" font-size="11.5" fill="#a97aa9" xml:space="preserve"><tspan x="831.0" textLength="55.6" lengthAdjust="spacingAndGlyphs">SiteLinks:</tspan><tspan x="890.6" font-weight="700" font-size="11.25" fill="#222" textLength="35.4" lengthAdjust="spacingAndGlyphs">1.339</tspan></text>
<text y="283.6" font-size="11.5" fill="#41a0d1" xml:space="preserve"><tspan x="830.6" textLength="41.7" lengthAdjust="spacingAndGlyphs">HTTPS:</tspan><tspan x="876.2" font-weight="700" font-size="11.25" fill="#222" textLength="43.2" lengthAdjust="spacingAndGlyphs">2.5233</tspan></text>
<text y="299.6" font-size="11.5" fill="#9ac3b9" xml:space="preserve"><tspan x="830.6" textLength="92.2" lengthAdjust="spacingAndGlyphs">Notable Online:</tspan><tspan x="925.6" font-weight="700" font-size="11.25" fill="#222" textLength="43.2" lengthAdjust="spacingAndGlyphs">4.0189</tspan></text>
</g>
<path transform="translate(775.9 188.5) scale(0.94)" d="M0 0v16.2l3.7-3.5 2.9 6.6 2.5-1.1-2.9-6.4h5.2z" fill="#fff" stroke="#000" stroke-width="1" stroke-linejoin="miter"/>
</svg>
</body></html>
